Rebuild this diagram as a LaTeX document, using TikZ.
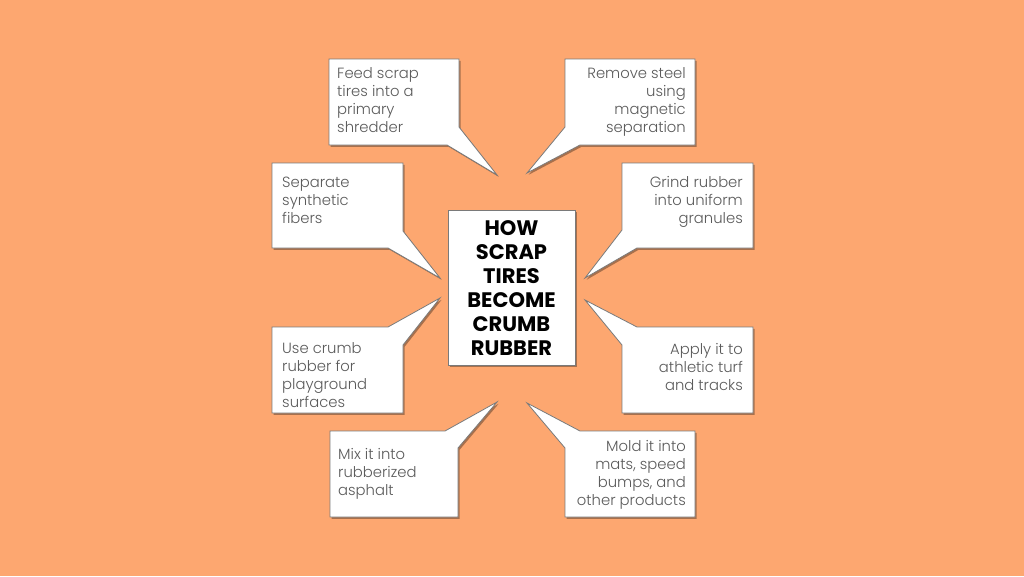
\documentclass[tikz,border=0pt]{standalone}
\usepackage{fontspec}
\setmainfont{Poppins}
\newfontfamily\lightfont{Poppins Light}
\definecolor{bgc}{HTML}{FDA770}
\definecolor{shadowc}{HTML}{A8704C}
\definecolor{edgec}{HTML}{7A7A7A}
\definecolor{txtc}{HTML}{5A5A5A}
\tikzset{
  calloutshadow/.style={fill=shadowc, shift={(1.6,1.8)}},
  calloutbox/.style={fill=white, draw=edgec, line width=0.8pt, line join=miter},
  lefttext/.style={anchor=base west, align=left, inner sep=0pt, text=txtc, font=\lightfont\fontsize{14.8}{17.7}\selectfont},
  righttext/.style={anchor=base east, align=right, inner sep=0pt, text=txtc, font=\lightfont\fontsize{14.8}{17.7}\selectfont},
  titlebox/.style={fill=white, draw=edgec, line width=0.8pt, minimum width=127pt, minimum height=155pt, inner sep=0pt},
  titletext/.style={anchor=base, align=center, inner sep=0pt, text=black, font=\bfseries\fontsize{21}{24}\selectfont}
}
\newcommand{\mycallout}[1]{\fill[calloutshadow] #1; \filldraw[calloutbox] #1;}
\begin{document}
\begin{tikzpicture}[x=1pt,y=-1pt]
\useasboundingbox[fill=bgc] (0,0) rectangle (1024,576);
% callouts
\mycallout{(329,59) -- (459,59) -- (459,127) -- (497,175) -- (447,145) -- (329,145) -- cycle}
\mycallout{(565,59) -- (695,59) -- (695,145) -- (580,145) -- (527,173) -- (565,127) -- cycle}
\mycallout{(272,163) -- (403,163) -- (403,231) -- (440,278) -- (388,248) -- (272,248) -- cycle}
\mycallout{(622,163) -- (753,163) -- (753,248) -- (637,248) -- (585,278) -- (622,230) -- cycle}
\mycallout{(272,327) -- (388,327) -- (440,298) -- (403,345) -- (403,413) -- (272,413) -- cycle}
\mycallout{(622,345) -- (585,300) -- (637,327) -- (753,327) -- (753,413) -- (622,413) -- cycle}
\mycallout{(330,431) -- (445,431) -- (497,402) -- (458,448) -- (458,517) -- (330,517) -- cycle}
\mycallout{(565,448) -- (527,403) -- (580,431) -- (695,431) -- (695,517) -- (565,517) -- cycle}
% center
\fill[shadowc] (449.6,211.8) rectangle (576.6,366.8);
\node[titlebox] (center) at (511.5,287.5) {};
\node[titletext] (title) at (511.5,355) {HOW\\SCRAP\\TIRES\\BECOME\\CRUMB\\RUBBER};
% texts
\node[lefttext] (t1) at (337,132) {Feed scrap\\tires into a\\primary\\shredder};
\node[righttext] (t2) at (686,132) {Remove steel\\using\\magnetic\\separation};
\node[lefttext] (t3) at (282,223) {Separate\\synthetic\\fibers};
\node[righttext] (t4) at (743,223) {Grind rubber\\into uniform\\granules};
\node[lefttext] (t5) at (282,407) {Use crumb\\rubber for\\playground\\surfaces};
\node[righttext] (t6) at (743,390) {Apply it to\\athletic turf\\and tracks};
\node[lefttext] (t7) at (338,495) {Mix it into\\rubberized\\asphalt};
\node[righttext] (t8) at (686,505) {Mold it into\\mats, speed\\bumps, and\\other products};
\end{tikzpicture}
\end{document}
